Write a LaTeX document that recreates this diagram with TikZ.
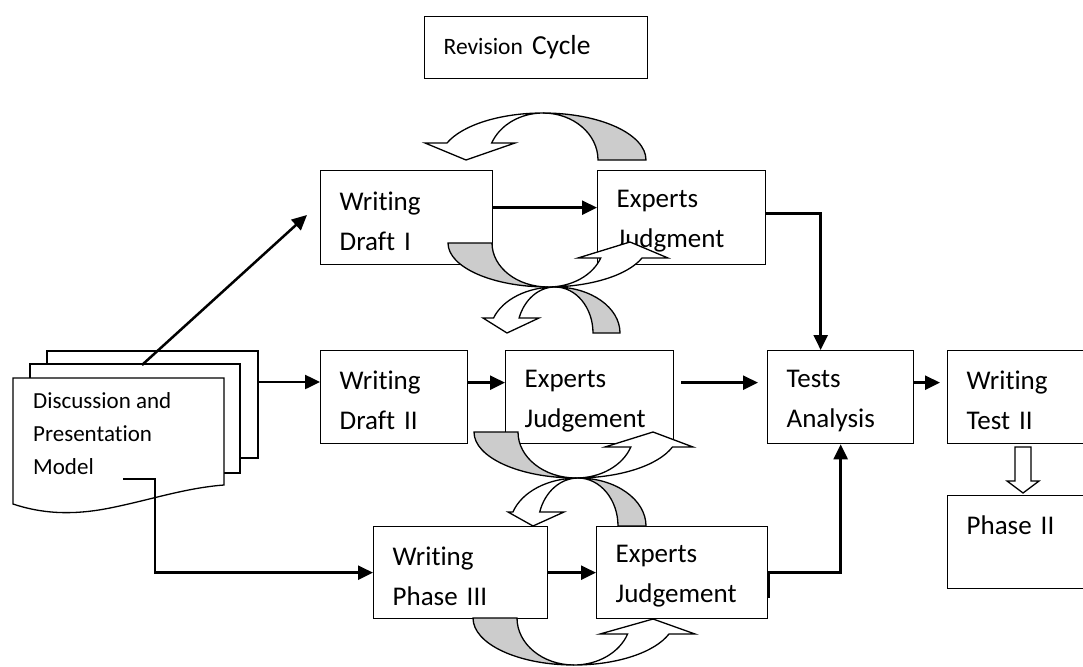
\documentclass[tikz,border=0pt]{standalone}
\usepackage{fontspec}
\setmainfont{Carlito}[Ligatures=NoCommon]
\usetikzlibrary{arrows.meta}

\tikzset{
  box/.style={draw, line width=1.3pt, anchor=north west, align=left,
    inner xsep=19pt, inner ysep=0pt, font=\fontsize{27}{40}\selectfont,
    execute at begin node={\rule{0pt}{25pt}}},
  link/.style={line width=2.5pt, -{Triangle[length=15pt,width=14pt]}},
  ribbonback/.style={draw, line width=1.3pt, fill=black!20},
  ribbonfront/.style={draw, line width=1.3pt, fill=white},
  page/.style={draw, line width=1.3pt, fill=white}
}

\begin{document}
\begin{tikzpicture}[x=1pt, y=-1pt]
  \useasboundingbox (0,0) rectangle (1083,666);
  % title box
  \node[draw, line width=1.3pt, anchor=north west, align=left, inner xsep=19pt,
    minimum width=223pt, minimum height=62pt, text width=185pt,
    font=\fontsize{27.5}{30}\selectfont] (revision) at (424,16)
    {{\fontsize{23.5}{28}\selectfont Revision} Cycle};
  % the stack of pages
  \draw[page] (47,351) rectangle (258,458);
  \draw[page] (30,364) rectangle (240,473);
  \draw[page] (13,378) -- (224,378) -- (224,485)
    .. controls (185,488) and (150,500) .. (110,508)
    .. controls (70,516) and (40,513) .. (13,504) -- cycle;
  \node[anchor=west, align=left, inner sep=0pt, font=\fontsize{23}{33}\selectfont]
    (model) at (33,434) {Discussion and\\Presentation\\Model};
  \coordinate (stacktop)   at (142,365);
  \coordinate (stackright) at (258,382);
  \coordinate (stackout)   at (123,479);
  \coordinate (draftin)    at (307,215);
  % the boxes
  \node[box, minimum width=172pt, minimum height=94pt, text width=134pt] (draftone)   at (320,170) {Writing\\Draft I};
  \node[box, minimum width=168pt, minimum height=94pt, text width=130pt] (judgeone)   at (597,170) {Experts\\Judgment};
  \node[box, minimum width=147pt, minimum height=93pt, text width=109pt] (drafttwo)   at (320,350) {Writing\\Draft II};
  \node[box, minimum width=168pt, minimum height=93pt, text width=130pt] (judgetwo)   at (505,350) {Experts\\Judgement};
  \node[box, minimum width=146pt, minimum height=93pt, text width=108pt] (tests)      at (767,350) {Tests\\Analysis};
  \node[box, minimum width=153pt, minimum height=93pt, text width=115pt] (testtwo)    at (947,350) {Writing\\Test II};
  \node[box, minimum width=153pt, minimum height=93pt, text width=115pt] (phasetwo)   at (947,495) {Phase II\\~};
  \node[box, minimum width=174pt, minimum height=92pt, text width=136pt] (phasethree) at (373,526) {Writing\\Phase III};
  \node[box, minimum width=171pt, minimum height=92pt, text width=133pt] (judgethree) at (596,526) {Experts\\Judgement};
  % connectors
  \draw[link] (stacktop) -- (draftin);
  \draw[link] (stackright) -- (stackright -| drafttwo.west);
  \draw[link] ([yshift=10pt]draftone.east) -- ([yshift=10pt]judgeone.west);
  \draw[link] ([yshift=14.5pt]drafttwo.east) -- ([yshift=14.5pt]judgetwo.west);
  \draw[link, shorten <=7pt, shorten >=9pt] ([yshift=14.5pt]judgetwo.east) -- ([yshift=14.5pt]tests.west);
  \draw[link, shorten >=7pt] ([yshift=14.5pt]tests.east) -- ([yshift=14.5pt]testtwo.west);
  \draw[link] ([yshift=4pt]judgeone.east) -| ([xshift=-20pt]tests.north);
  \draw[link] ([yshift=-25pt]judgethree.east) -- (judgethree.east) -| (tests.south);
  \draw[link] (phasethree) -- (judgethree);
  \draw[link] (stackout) -- ++(32,0) |- (phasethree.west);
  % hollow arrow down to phase II
  \draw[line width=1.3pt, fill=white] (1015,447) -- (1031,447) -- (1031,481) -- (1039,481)
    -- (1023,493) -- (1007,481) -- (1015,481) -- cycle;
  % revision arrows, top
  \filldraw[ribbonback] (646,160) arc[start angle=0, end angle=-90, x radius=103, y radius=47]
    arc[start angle=-90, end angle=0, x radius=55, y radius=47] -- cycle;
  \filldraw[ribbonfront] (543,113) arc[start angle=-90, end angle=-158.8, x radius=103, y radius=47]
    -- (425,143) -- (466,160) -- (515,143) -- (491.7,143)
    arc[start angle=-158.8, end angle=-90, x radius=55, y radius=47] -- cycle;
  % revision arrows, between first and second row
  \filldraw[ribbonback] (448,243) arc[start angle=180, end angle=90, x radius=100, y radius=44]
    arc[start angle=90, end angle=180, x radius=56, y radius=44] -- cycle;
  \filldraw[ribbonfront] (548,287) arc[start angle=90, end angle=19.9, x radius=100, y radius=44]
    -- (668,258) -- (630,242) -- (578,258) -- (600.7,258)
    arc[start angle=19.9, end angle=90, x radius=56, y radius=44] -- cycle;
  \filldraw[ribbonback] (620,333) arc[start angle=0, end angle=-90, x radius=65, y radius=46]
    arc[start angle=-90, end angle=0, x radius=38, y radius=46] -- cycle;
  \filldraw[ribbonfront] (555,287) arc[start angle=-90, end angle=-161, x radius=65, y radius=46]
    -- (483,318) -- (507,333) -- (539,318) -- (519.1,318)
    arc[start angle=-161, end angle=-90, x radius=38, y radius=46] -- cycle;
  % revision arrows, between second and third row
  \filldraw[ribbonback] (474,432) arc[start angle=180, end angle=90, x radius=102, y radius=46]
    arc[start angle=90, end angle=180, x radius=58, y radius=46] -- cycle;
  \filldraw[ribbonfront] (576,478) arc[start angle=90, end angle=19, x radius=102, y radius=46]
    -- (693,447) -- (653,432) -- (605,447) -- (630.8,447)
    arc[start angle=19, end angle=90, x radius=58, y radius=46] -- cycle;
  \filldraw[ribbonback] (646,526) arc[start angle=0, end angle=-90, x radius=68, y radius=48]
    arc[start angle=-90, end angle=0, x radius=40, y radius=48] -- cycle;
  \filldraw[ribbonfront] (578,478) arc[start angle=-90, end angle=-163, x radius=68, y radius=48]
    -- (508,512) -- (533,526) -- (564,512) -- (539.7,512)
    arc[start angle=-163, end angle=-90, x radius=40, y radius=48] -- cycle;
  % revision arrows, bottom
  \filldraw[ribbonback] (473,618) arc[start angle=180, end angle=90, x radius=101, y radius=47]
    arc[start angle=90, end angle=180, x radius=57, y radius=47] -- cycle;
  \filldraw[ribbonfront] (574,665) arc[start angle=90, end angle=19.9, x radius=101, y radius=47]
    -- (695,634) -- (653,619) -- (600,634) -- (627.6,634)
    arc[start angle=19.9, end angle=90, x radius=57, y radius=47] -- cycle;
\end{tikzpicture}
\end{document}
